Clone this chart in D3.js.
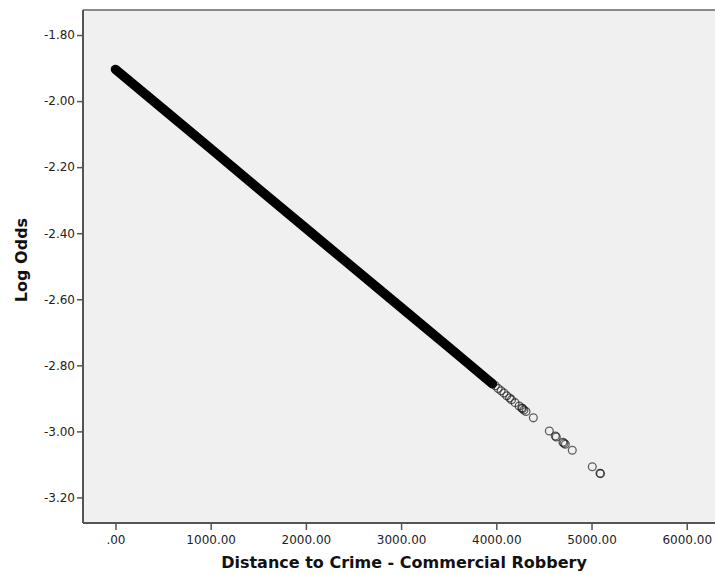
<!DOCTYPE html>
<html>
<head>
<meta charset="utf-8">
<script src="https://cdn.jsdelivr.net/npm/d3@7"></script>
<style>
  body { margin: 0; background: #fff; }
  text { font-family: "DejaVu Sans", sans-serif; }
</style>
</head>
<body>
<svg id="chart" width="715" height="575"></svg>
<script>
const svg = d3.select("#chart");

// Dense part of the cloud (thousands of overlapping circles), read along its centre
const bandDistance = [0, 500, 1000, 1500, 2000, 2500, 3000, 3500, 3960];
const bandLogOdds = [-1.904, -2.024, -2.144, -2.265, -2.385, -2.505, -2.625, -2.745, -2.856];

// Individually visible circles at the far end
const pointDistance = [3990, 4020, 4050, 4080, 4110, 4140, 4160, 4197, 4240, 4267, 4275, 4290, 4312,
  4389, 4557, 4620, 4630, 4700, 4711, 4725, 4798, 5008, 5089, 5095];
const pointLogOdds = [-2.862, -2.870, -2.877, -2.884, -2.892, -2.899, -2.904, -2.913, -2.923, -2.929, -2.931, -2.935, -2.940,
  -2.959, -2.999, -3.014, -3.017, -3.033, -3.036, -3.039, -3.057, -3.107, -3.127, -3.128];

const xTicks = [0, 1000, 2000, 3000, 4000, 5000, 6000];
const yTicks = [-1.8, -2.0, -2.2, -2.4, -2.6, -2.8, -3.0, -3.2];

const plotLeft = 83, plotRight = 715, plotTop = 10, plotBottom = 523;

const x = d3.scaleLinear().domain([-341, 6297]).range([plotLeft, plotRight]);
const y = d3.scaleLinear().domain([-1.7242, -3.2774]).range([plotTop, plotBottom]);

// plot background
svg.append("rect")
  .attr("x", plotLeft).attr("y", plotTop)
  .attr("width", plotRight - plotLeft).attr("height", plotBottom - plotTop)
  .attr("fill", "#f0f0f0");

// top frame line
svg.append("line")
  .attr("x1", plotLeft).attr("x2", plotRight)
  .attr("y1", plotTop).attr("y2", plotTop)
  .attr("stroke", "#8a8a8a").attr("stroke-width", 2);

const fmt = v => v === 0 ? ".00" : d3.format(".2f")(v).replace("−", "-");

// y axis
const yAxis = svg.append("g")
  .attr("transform", `translate(${plotLeft},0)`)
  .call(d3.axisLeft(y).tickValues(yTicks).tickSize(6).tickPadding(2).tickFormat(fmt));
yAxis.select(".domain").attr("stroke", "#555").attr("stroke-width", 2).attr("d", `M0,${plotTop}V${plotBottom}`);
yAxis.selectAll(".tick line").attr("stroke", "#555").attr("stroke-width", 1.5);
yAxis.selectAll(".tick text").attr("font-size", 12).attr("fill", "#222")
  .attr("font-family", "DejaVu Sans, sans-serif");

// x axis
const xAxis = svg.append("g")
  .attr("transform", `translate(0,${plotBottom})`)
  .call(d3.axisBottom(x).tickValues(xTicks).tickSize(7).tickPadding(5).tickFormat(fmt));
xAxis.select(".domain").attr("stroke", "#555").attr("stroke-width", 2).attr("d", `M${plotLeft},0H${plotRight}`);
xAxis.selectAll(".tick line").attr("stroke", "#555").attr("stroke-width", 1.5);
xAxis.selectAll(".tick text").attr("font-size", 12).attr("fill", "#222")
  .attr("font-family", "DejaVu Sans, sans-serif");

// dense band
const band = bandDistance.map((d, i) => [d, bandLogOdds[i]]);
svg.append("path")
  .datum(band)
  .attr("fill", "none")
  .attr("stroke", "#000")
  .attr("stroke-width", 9.5)
  .attr("stroke-linecap", "round")
  .attr("d", d3.line().x(d => x(d[0])).y(d => y(d[1])));

// individual circles
const pts = pointDistance.map((d, i) => [d, pointLogOdds[i]]);
svg.append("g")
  .selectAll("circle")
  .data(pts)
  .join("circle")
  .attr("cx", d => x(d[0]))
  .attr("cy", d => y(d[1]))
  .attr("r", 3.9)
  .attr("fill", "none")
  .attr("stroke", "#111")
  .attr("stroke-opacity", 0.65)
  .attr("stroke-width", 1.3);

// axis titles
svg.append("text")
  .attr("x", 404).attr("y", 568)
  .attr("text-anchor", "middle")
  .attr("font-size", 16).attr("font-weight", "bold").attr("fill", "#111")
  .text("Distance to Crime - Commercial Robbery");

svg.append("text")
  .attr("transform", "translate(27,260) rotate(-90)")
  .attr("text-anchor", "middle")
  .attr("font-size", 16).attr("font-weight", "bold").attr("fill", "#111")
  .text("Log Odds");
</script>
</body>
</html>
